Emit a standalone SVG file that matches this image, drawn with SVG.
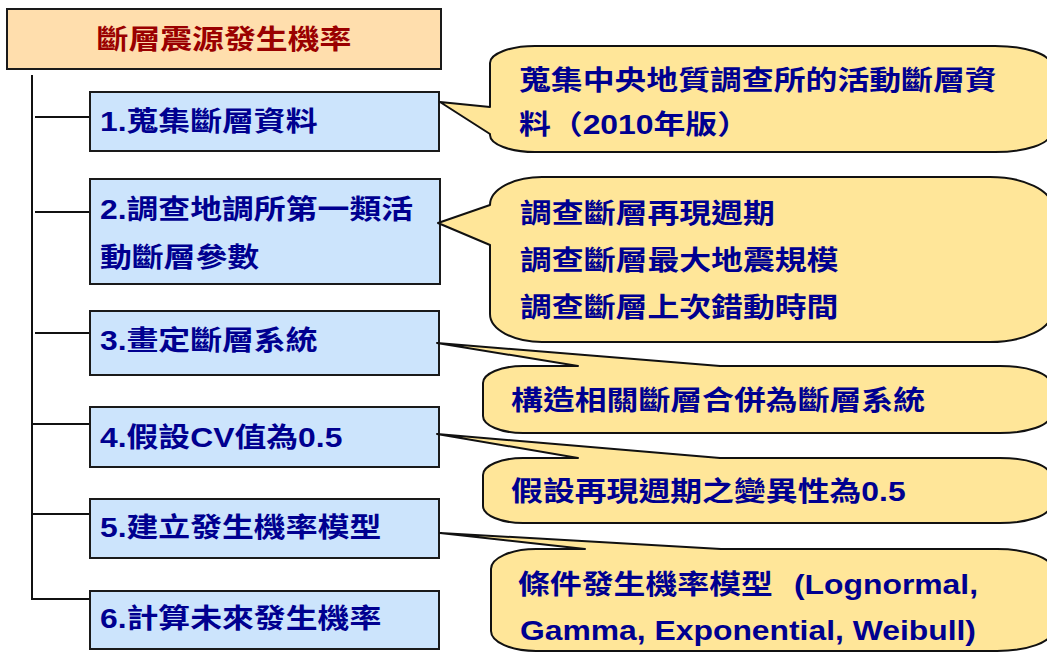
<svg xmlns="http://www.w3.org/2000/svg" width="1047" height="653" viewBox="0 0 1047 653">
<style>
.box{fill:#CCE4FC;stroke:#1a1a1a;stroke-width:2}
.title{fill:#FFDEAD;stroke:#1a1a1a;stroke-width:2}
.call{fill:#FFE699;stroke:#111;stroke-width:2;stroke-linejoin:round}
.t{font-family:"Liberation Sans","Noto Sans CJK TC",sans-serif;font-weight:700;font-size:27px;fill:#000090}
.tt{font-family:"Liberation Sans","Noto Sans CJK TC",sans-serif;font-weight:700;font-size:27px;fill:#9A0000}
.c{fill:none;stroke:#111;stroke-width:2}
</style>
<g id="connectors">
<line class="c" x1="32" y1="75" x2="32" y2="600"/>
<line class="c" x1="35" y1="117" x2="90" y2="117"/>
<line class="c" x1="35" y1="212" x2="90" y2="212"/>
<line class="c" x1="35" y1="333" x2="90" y2="333"/>
<line class="c" x1="31" y1="424" x2="90" y2="424"/>
<line class="c" x1="31" y1="514" x2="90" y2="514"/>
<line class="c" x1="31" y1="599" x2="90" y2="599"/>
</g>
<g id="title">
<rect class="title" x="7" y="9" width="434" height="60"/>
<text class="tt" transform="scale(1.18 1)" x="189.8" y="49" text-anchor="middle">斷層震源發生機率</text>
</g>
<g id="step1">
<rect class="box" x="90" y="92" width="349" height="59"/>
<text class="t" transform="scale(1.18 1)" x="84.7" y="131">1.蒐集斷層資料</text>
</g>
<g id="step2">
<rect class="box" x="90" y="179" width="350" height="105"/>
<text class="t" transform="scale(1.18 1)" x="84.7" y="219">2.調查地調所第一類活</text>
<text class="t" transform="scale(1.18 1)" x="84.7" y="267">動斷層參數</text>
</g>
<g id="step3">
<rect class="box" x="90" y="311" width="349" height="64"/>
<text class="t" transform="scale(1.18 1)" x="84.7" y="350">3.畫定斷層系統</text>
</g>
<g id="step4">
<rect class="box" x="90" y="407" width="349" height="60"/>
<text class="t" transform="scale(1.18 1)" x="84.7" y="447">4.假設CV值為0.5</text>
</g>
<g id="step5">
<rect class="box" x="90" y="499" width="349" height="59"/>
<text class="t" transform="scale(1.18 1)" x="84.7" y="537">5.建立發生機率模型</text>
</g>
<g id="step6">
<rect class="box" x="90" y="591" width="349" height="58"/>
<text class="t" transform="scale(1.18 1)" x="84.7" y="628">6.計算未來發生機率</text>
</g>
<g id="callout1">
<path class="call" d="M535,46 H995 A55,18 0 0 1 1050,64 V134 A55,18 0 0 1 995,152 H535 A45,17 0 0 1 490,135 V134 L440,102 L490,107 V63 A45,17 0 0 1 535,46 Z"/>
<text class="t" transform="scale(1.18 1)" x="439.8" y="90">蒐集中央地質調查所的活動斷層資</text>
<text class="t" transform="scale(1.18 1)" x="439.8" y="134">料（2010年版）</text>
</g>
<g id="callout2">
<path class="call" d="M542,177 H990 A62,30 0 0 1 1052,207 V312 A62,30 0 0 1 990,342 H542 A52,28 0 0 1 490,314 V245 L438,223 L490,205 A52,28 0 0 1 542,177 Z"/>
<text class="t" transform="scale(1.18 1)" x="440.7" y="223">調查斷層再現週期</text>
<text class="t" transform="scale(1.18 1)" x="440.7" y="270">調查斷層最大地震規模</text>
<text class="t" transform="scale(1.18 1)" x="440.7" y="317">調查斷層上次錯動時間</text>
</g>
<g id="callout3">
<path class="call" d="M523,366 H578 L437,343 L720,366 H1000 A50,17 0 0 1 1050,383 V416 A50,17 0 0 1 1000,433 H523 A40,17 0 0 1 483,416 V383 A40,17 0 0 1 523,366 Z"/>
<text class="t" transform="scale(1.18 1)" x="433.1" y="410">構造相關斷層合併為斷層系統</text>
</g>
<g id="callout4">
<path class="call" d="M523,458 H578 L437,434 L720,458 H1000 A50,17 0 0 1 1050,475 V506 A50,17 0 0 1 1000,523 H523 A40,17 0 0 1 483,506 V475 A40,17 0 0 1 523,458 Z"/>
<text class="t" transform="scale(1.18 1)" x="433.1" y="501">假設再現週期之變異性為0.5</text>
</g>
<g id="callout5">
<path class="call" d="M536,549 H585 L440,533 L721,549 H997 A55,20 0 0 1 1052,569 V631 A55,20 0 0 1 997,651 H536 A45,20 0 0 1 491,631 V569 A45,20 0 0 1 536,549 Z"/>
<text class="t" transform="scale(1.18 1)" x="439" y="594">條件發生機率模型<tspan x="672.9">(Lognormal,</tspan></text>
<text class="t" transform="scale(1.18 1)" x="440.7" y="640">Gamma, Exponential, Weibull)</text>
</g>
</svg>
